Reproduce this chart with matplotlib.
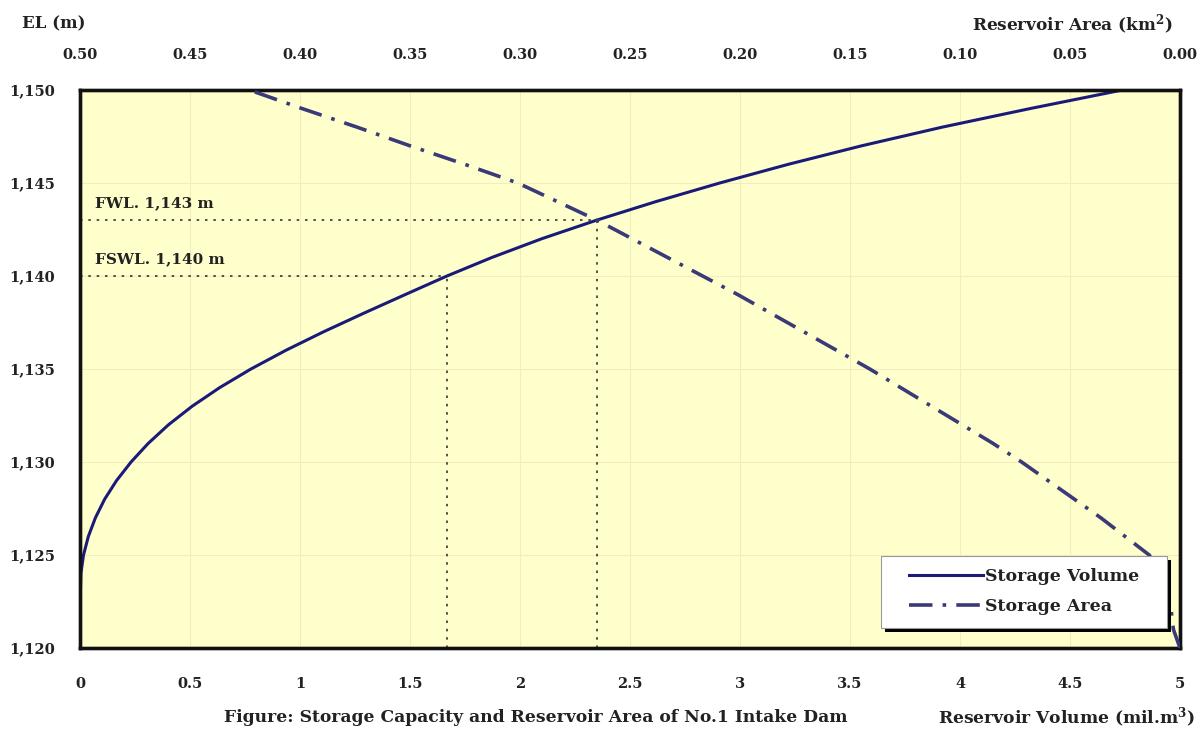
import matplotlib
matplotlib.use("Agg")
import matplotlib.pyplot as plt
import numpy as np
from matplotlib.ticker import FixedLocator, FuncFormatter
from matplotlib.patches import Rectangle

# ---- data ----
elevation = [1120, 1121, 1122, 1123, 1124, 1125, 1126, 1127, 1128, 1129, 1130,
             1131, 1132, 1133, 1134, 1135, 1136, 1137, 1138, 1139, 1140,
             1141, 1142, 1143, 1144, 1145, 1146, 1147, 1148, 1149, 1150]
storage_volume = [0.0, 0.0, 0.001, 0.002, 0.004, 0.016, 0.038, 0.070, 0.112, 0.166, 0.232,
                  0.310, 0.402, 0.510, 0.635, 0.777, 0.935, 1.107, 1.290, 1.478, 1.668,
                  1.873, 2.098, 2.348, 2.618, 2.908, 3.218, 3.553, 3.918, 4.318, 4.738]
storage_area = [0.0, 0.003, 0.004, 0.006, 0.009, 0.014, 0.025, 0.036, 0.048, 0.060, 0.072,
                0.085, 0.099, 0.113, 0.127, 0.141, 0.156, 0.171, 0.186, 0.201, 0.217,
                0.233, 0.249, 0.265, 0.283, 0.301, 0.325, 0.350, 0.374, 0.399, 0.423]
fwl = 1143
fswl = 1140
vol_ticks = [0, 0.5, 1, 1.5, 2, 2.5, 3, 3.5, 4, 4.5, 5]
area_ticks = [0.50, 0.45, 0.40, 0.35, 0.30, 0.25, 0.20, 0.15, 0.10, 0.05, 0.00]
el_ticks = [1120, 1125, 1130, 1135, 1140, 1145, 1150]

FONT = "DejaVu Serif"
TXT = "#222222"
plt.rcParams['font.family'] = [FONT]
plt.rcParams['font.weight'] = 'bold'
plt.rcParams['mathtext.fontset'] = 'dejavuserif'

fig = plt.figure(figsize=(12.03, 7.31), dpi=100)
ax = fig.add_axes([80/1203, 83/731, 1100/1203, 558/731])
ax.set_facecolor("#FFFFCC")

ax.set_xlim(0, 5)
ax.set_ylim(1120, 1150)
ax.xaxis.set_major_locator(FixedLocator(vol_ticks))
ax.yaxis.set_major_locator(FixedLocator(el_ticks))
ax.xaxis.set_major_formatter(FuncFormatter(lambda v, p: f"{v:g}"))
ax.yaxis.set_major_formatter(FuncFormatter(lambda v, p: f"{v:,.0f}"))
ax.grid(True, color="#F1EDBE", linewidth=0.8)
ax.set_axisbelow(True)
ax.tick_params(axis='x', length=0, pad=21, labelsize=10.5, labelcolor=TXT)
ax.tick_params(axis='y', length=0, pad=18, labelsize=10.5, labelcolor=TXT)

# reference lines
v_fwl = np.interp(fwl, elevation, storage_volume)
v_fswl = np.interp(fswl, elevation, storage_volume)
for v, e in [(v_fwl, fwl), (v_fswl, fswl)]:
    ax.plot([0, v], [e, e], color="#333333", lw=1.2, ls=(0, (1.5, 3.5)), zorder=2)
    ax.plot([v, v], [1120, e], color="#333333", lw=1.2, ls=(0, (1.5, 3.5)), zorder=2)
ax.text(0.07, fwl + 0.55, "FWL. 1,143 m", fontsize=11, color=TXT, va='bottom', ha='left')
ax.text(0.07, fswl + 0.55, "FSWL. 1,140 m", fontsize=11, color=TXT, va='bottom', ha='left')

l1, = ax.plot(storage_volume, elevation, color="#1A1A78", lw=2.2, zorder=4,
              solid_joinstyle='round')

ax2 = ax.twiny()
ax2.set_xlim(0.5, 0.0)
ax2.xaxis.set_major_locator(FixedLocator(area_ticks))
ax2.xaxis.set_major_formatter(FuncFormatter(lambda v, p: f"{v:.2f}"))
ax2.tick_params(axis='x', length=0, pad=20, labelsize=10.5, labelcolor=TXT)
l2, = ax2.plot(storage_area, elevation, color="#3B3A78", lw=2.6,
               ls=(0, (6.5, 2.8, 1.0, 2.8)), zorder=4)

for a in (ax, ax2):
    for s in a.spines.values():
        s.set_linewidth(2.4)
        s.set_color("#111111")

leg = ax2.legend([l1, l2], ["Storage Volume", "Storage Area"],
                 loc='lower right', bbox_to_anchor=(0.9745, 0.036),
                 borderaxespad=0, frameon=False,
                 handlelength=4.3, handletextpad=0.1, borderpad=0.72,
                 labelspacing=0.75, prop={'family': FONT, 'weight': 'bold', 'size': 12.5})
for t in leg.get_texts():
    t.set_color(TXT)
leg.set_zorder(12)

fig.canvas.draw()
bb = leg.get_window_extent()
padx = 15
x0, y0, w, h = bb.x0 - padx, bb.y0, bb.width + 2 * padx, bb.height
shadow = Rectangle((x0 + 4, y0 - 4), w, h, transform=None, facecolor="black",
                   edgecolor="none", zorder=10, clip_on=False)
frame = Rectangle((x0, y0), w, h, transform=None, facecolor="white",
                  edgecolor="#9A9A9A", linewidth=0.8, zorder=11, clip_on=False)
ax2.add_artist(shadow)
ax2.add_artist(frame)

fig.text(22/1203, 1 - 24/731, "EL (m)", fontsize=12, color=TXT, ha='left', va='center')
fig.text(1172/1203, 1 - 25/731, "Reservoir Area (km$^\\mathbf{2}$)", fontsize=12.2, color=TXT,
         ha='right', va='center')
fig.text(536/1203, 1 - 718/731, "Figure: Storage Capacity and Reservoir Area of No.1 Intake Dam",
         fontsize=12.3, color=TXT, ha='center', va='center')
fig.text(1195/1203, 1 - 718/731, "Reservoir Volume (mil.m$^\\mathbf{3}$)", fontsize=12.3, color=TXT,
         ha='right', va='center')

fig.savefig("out.png", dpi=100)
